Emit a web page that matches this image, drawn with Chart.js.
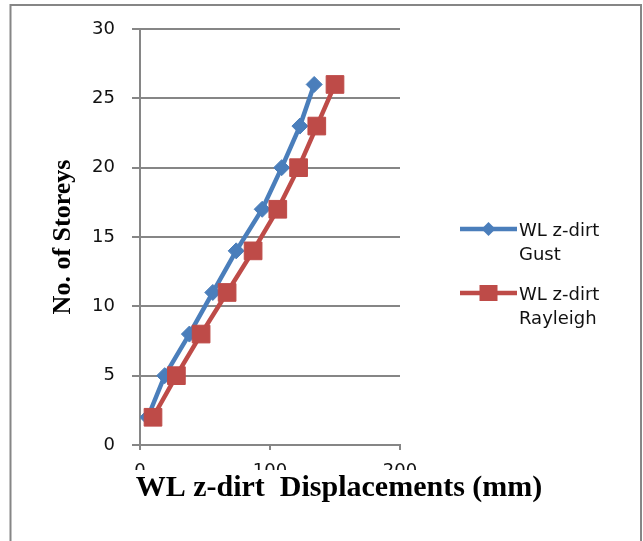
<!DOCTYPE html>
<html><head><meta charset="utf-8">
<script src="https://cdn.jsdelivr.net/npm/chart.js@4.4.0/dist/chart.umd.min.js"></script>
<style>html,body{margin:0;padding:0;background:#fff;} canvas{display:block;}</style>
</head><body>
<canvas id="c" width="643" height="541"></canvas>
<script>
// ---- data ----
const storeys = [2, 5, 8, 11, 14, 17, 20, 23, 26];
const gustDisp = [6, 19, 38, 56, 74, 94, 109, 123, 134];
const rayleighDisp = [10, 28, 47, 67, 87, 106, 122, 136, 150];
const seriesLabels = ['WL z-dirt Gust', 'WL z-dirt Rayleigh'];
const xTickValues = [0, 100, 200];
const yTickValues = [0, 5, 10, 15, 20, 25, 30];
const xTitle = 'WL z-dirt  Displacements (mm)';
const yTitle = 'No. of Storeys';

const BLUE = '#4A7EBB';
const RED = '#BE4B48';
const GRID = '#868686';

function toPoints(xs, ys) { return xs.map((v, i) => ({ x: v, y: ys[i] })); }

const frame = {
  id: 'frame',
  beforeDraw(chart) {
    const ctx = chart.ctx;
    ctx.save();
    ctx.fillStyle = '#fff';
    ctx.fillRect(0, 0, chart.width, chart.height);
    ctx.strokeStyle = GRID;
    ctx.lineWidth = 2;
    ctx.strokeRect(10.5, 5, 630.5, 600);
    ctx.restore();
  }
};

const sideLegend = {
  id: 'sideLegend',
  afterDraw(chart) {
    const ctx = chart.ctx;
    const ca = chart.chartArea;
    const x0 = ca.right + 60, x1 = x0 + 57, xm = (x0 + x1) / 2;
    const mid = (ca.top + ca.bottom) / 2;
    ctx.save();
    chart.data.datasets.forEach((ds, i) => {
      const y = mid - 8 + 64 * i;
      ctx.strokeStyle = ds.borderColor;
      ctx.lineWidth = 4.5;
      ctx.beginPath(); ctx.moveTo(x0, y); ctx.lineTo(x1, y); ctx.stroke();
      ctx.fillStyle = ds.backgroundColor;
      if (ds.pointStyle === 'rect') {
        ctx.fillRect(xm - 9, y - 8, 18, 16);
      } else {
        const r = 7;
        ctx.beginPath();
        ctx.moveTo(xm, y - r); ctx.lineTo(xm + r, y); ctx.lineTo(xm, y + r); ctx.lineTo(xm - r, y);
        ctx.closePath(); ctx.fill();
      }
      const label = ds.label;
      const cut = label.lastIndexOf(' ');
      const lines = [label.slice(0, cut), label.slice(cut + 1)];
      ctx.fillStyle = '#111';
      ctx.font = '18px "DejaVu Sans"';
      ctx.textAlign = 'left';
      ctx.textBaseline = 'alphabetic';
      lines.forEach((t, k) => ctx.fillText(t, x1 + 2, y + 7 + 23.5 * k));
    });
    ctx.restore();
  }
};

new Chart(document.getElementById('c'), {
  type: 'line',
  data: {
    datasets: [
      {
        label: seriesLabels[0],
        data: toPoints(gustDisp, storeys),
        borderColor: BLUE, backgroundColor: BLUE,
        pointStyle: 'rectRot', pointRadius: 8, pointBorderWidth: 1,
        pointBorderColor: BLUE, pointBackgroundColor: BLUE,
        borderWidth: 4.5, tension: 0, order: 1
      },
      {
        label: seriesLabels[1],
        data: toPoints(rayleighDisp, storeys),
        borderColor: RED, backgroundColor: RED,
        pointStyle: 'rect', pointRadius: 12.5, pointBorderWidth: 1,
        pointBorderColor: RED, pointBackgroundColor: RED,
        borderWidth: 4.5, tension: 0, order: 0
      }
    ]
  },
  options: {
    responsive: false,
    animation: false,
    layout: { padding: { left: 35, top: 29, right: 0, bottom: 0 } },
    plugins: {
      legend: { display: false },
      tooltip: { enabled: false },
      title: {
        display: true, position: 'bottom', text: xTitle, color: '#000',
        font: { family: '"Liberation Serif", "Times New Roman", serif', size: 30, weight: 'bold', lineHeight: 1.2 },
        padding: { top: 0, bottom: 35 }
      }
    },
    scales: {
      x: {
        type: 'linear', min: 0, max: 200,
        afterBuildTicks: s => { s.ticks = xTickValues.map(v => ({ value: v })); },
        afterFit: s => { s.height = 25; },
        grid: { drawOnChartArea: false, drawTicks: true, tickLength: 5, color: GRID, lineWidth: 2 },
        border: { display: true, color: GRID, width: 2 },
        ticks: { color: '#111', padding: 11, font: { family: '"DejaVu Sans"', size: 18 }, maxRotation: 0 }
      },
      y: {
        type: 'linear', min: 0, max: 30,
        afterBuildTicks: s => { s.ticks = yTickValues.map(v => ({ value: v })); },
        afterFit: s => { s.width = 105; },
        grid: { color: GRID, lineWidth: 2, tickLength: 8, drawTicks: true },
        border: { display: true, color: GRID, width: 2 },
        ticks: { color: '#111', padding: 17, font: { family: '"DejaVu Sans"', size: 18 } },
        title: {
          display: true, text: yTitle, color: '#000', padding: 13,
          font: { family: '"Liberation Serif", "Times New Roman", serif', size: 26, weight: 'bold', lineHeight: 1.2 }
        }
      },
      spacer: {
        type: 'linear', axis: 'y', position: 'right', display: true,
        afterFit: s => { s.width = 243; },
        grid: { display: false, drawOnChartArea: false },
        border: { display: false },
        ticks: { display: false }
      }
    }
  },
  plugins: [frame, sideLegend]
});
</script>
</body></html>
